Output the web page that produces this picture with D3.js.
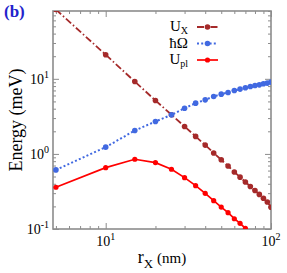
<!DOCTYPE html>
<html>
<head>
<meta charset="utf-8">
<script src="https://cdn.jsdelivr.net/npm/d3@7"></script>
<style>
  body { margin: 0; background: #fff; }
  text { font-family: "Liberation Serif", "Times New Roman", serif; }
</style>
</head>
<body>
<div id="chart"></div>
<script>
// exciton radius r_X (nm)
var radius = [5, 10, 15, 20, 25, 30, 35, 40, 45, 50, 55, 60, 65, 70, 75, 80, 85, 90, 95, 100];
// U_X (meV)
var uX = [83.6, 20.9, 9.2, 5.15, 3.32, 2.32, 1.71, 1.31, 1.03, 0.835, 0.69, 0.575, 0.49, 0.423, 0.368, 0.325, 0.289, 0.257, 0.229, 0.195];
// hbar Omega (meV)
var hOmega = [0.612, 1.23, 2.05, 2.70, 3.31, 4.06, 4.74, 5.25, 5.81, 6.25, 6.57, 6.98, 7.29, 7.59, 7.89, 8.14, 8.31, 8.58, 8.77, 9.04];
// U_pl (meV)
var uPl = [0.36, 0.656, 0.849, 0.766, 0.625, 0.483, 0.378, 0.299, 0.238, 0.196, 0.165, 0.137, 0.119, 0.102, 0.087];

var xTicks = [10, 100];
var yTicks = [0.1, 1, 10];
var xExp = ['1', '2'];
var yExp = ['-1', '0', '1'];

var series = [
  { name: 'U', sub: 'X', values: uX, color: '#a52a2a', dash: '7,2.5,1.5,2.5', width: 1.8, r: 2.8 },
  { name: '\u0127\u03a9', sub: '', values: hOmega, color: '#4169e1', dash: '2,2.2', width: 2, r: 2.8 },
  { name: 'U', sub: 'pl', values: uPl, color: '#ff0000', dash: null, width: 1.7, r: 2.6 }
];

var svg = d3.select('#chart').append('svg')
  .attr('width', 287)
  .attr('height', 273);

var margin = { top: 11, right: 16, bottom: 44, left: 53 };
var width = 287 - margin.left - margin.right;
var height = 273 - margin.top - margin.bottom;

var g = svg.append('g')
  .attr('transform', 'translate(' + margin.left + ',' + margin.top + ')');

var x = d3.scaleLog().domain([4.8, 100]).range([0, width]);
var y = d3.scaleLog().domain([0.1, 80]).range([height, 0]);

svg.append('defs').append('clipPath').attr('id', 'clip')
  .append('rect').attr('width', width).attr('height', height);

var axisColor = '#8c8c8c';

function isMajor(v) {
  var l = Math.log10(v);
  return Math.abs(l - Math.round(l)) < 1e-6;
}
var xMinor = x.ticks().filter(function(d) { return !isMajor(d); });
var yMinor = y.ticks().filter(function(d) { return !isMajor(d); });

function drawAxis(axis, tr) {
  var a = g.append('g').attr('transform', tr).call(axis);
  a.select('.domain').remove();
  a.selectAll('line').attr('stroke', axisColor).attr('stroke-width', 1);
  a.selectAll('text').remove();
}

drawAxis(d3.axisBottom(x).tickValues(xTicks).tickSize(-6), 'translate(0,' + height + ')');
drawAxis(d3.axisBottom(x).tickValues(xMinor).tickSize(-3), 'translate(0,' + height + ')');
drawAxis(d3.axisTop(x).tickValues(xTicks).tickSize(-6), 'translate(0,0)');
drawAxis(d3.axisTop(x).tickValues(xMinor).tickSize(-3), 'translate(0,0)');
drawAxis(d3.axisLeft(y).tickValues(yTicks).tickSize(-6), 'translate(0,0)');
drawAxis(d3.axisLeft(y).tickValues(yMinor).tickSize(-3), 'translate(0,0)');
drawAxis(d3.axisRight(y).tickValues(yTicks).tickSize(-6), 'translate(' + width + ',0)');
drawAxis(d3.axisRight(y).tickValues(yMinor).tickSize(-3), 'translate(' + width + ',0)');

g.append('rect')
  .attr('width', width)
  .attr('height', height)
  .attr('fill', 'none')
  .attr('stroke', axisColor)
  .attr('stroke-width', 1.6);

// tick labels with exponents
g.selectAll('.xlab')
  .data(xTicks)
  .enter().append('text')
    .attr('class', 'xlab')
    .attr('x', function(d) { return x(d); })
    .attr('y', height + 17)
    .attr('text-anchor', 'middle')
    .attr('font-size', 14)
    .each(function(d, i) {
      var t = d3.select(this);
      t.append('tspan').text('10');
      t.append('tspan').attr('dy', -6).attr('font-size', 10).text(xExp[i]);
    });

g.selectAll('.ylab')
  .data(yTicks)
  .enter().append('text')
    .attr('class', 'ylab')
    .attr('x', -4)
    .attr('y', function(d) { return y(d) + 5; })
    .attr('text-anchor', 'end')
    .attr('font-size', 14)
    .each(function(d, i) {
      var t = d3.select(this);
      t.append('tspan').text('10');
      t.append('tspan').attr('dy', -6).attr('font-size', 10).text(yExp[i]);
    });

// axis titles
var xt = svg.append('text')
  .attr('x', margin.left + width / 2)
  .attr('y', 263)
  .attr('text-anchor', 'middle')
  .attr('font-size', 18);
xt.append('tspan').text('r');
xt.append('tspan').attr('dy', 5).attr('font-size', 13).text('X');
xt.append('tspan').attr('dy', -5).attr('font-size', 15).text(' (nm)');

svg.append('text')
  .attr('transform', 'translate(22,' + (margin.top + height / 2) + ') rotate(-90)')
  .attr('text-anchor', 'middle')
  .attr('font-size', 18)
  .text('Energy (meV)');

svg.append('text')
  .attr('x', 4)
  .attr('y', 17)
  .attr('font-size', 17)
  .attr('font-weight', 'bold')
  .attr('fill', '#2323cc')
  .text('(b)');

// curves
var plot = g.append('g').attr('clip-path', 'url(#clip)');

series.forEach(function(s) {
  var pts = s.values.map(function(v, i) { return [radius[i], v]; });
  var line = d3.line()
    .x(function(d) { return x(d[0]); })
    .y(function(d) { return y(d[1]); });

  plot.append('path')
    .datum(pts)
    .attr('fill', 'none')
    .attr('stroke', s.color)
    .attr('stroke-width', s.width)
    .attr('stroke-dasharray', s.dash)
    .attr('d', line);

  plot.selectAll(null)
    .data(pts)
    .enter().append('circle')
      .attr('cx', function(d) { return x(d[0]); })
      .attr('cy', function(d) { return y(d[1]); })
      .attr('r', s.r)
      .attr('fill', s.color);
});

// legend
var legend = svg.append('g');
series.forEach(function(s, i) {
  var ly = 27 + i * 16.5;
  var t = legend.append('text')
    .attr('x', 188)
    .attr('y', ly + 4)
    .attr('text-anchor', 'end')
    .attr('font-size', 15);
  t.append('tspan').text(s.name);
  if (s.sub) t.append('tspan').attr('dy', 3).attr('font-size', 10).text(s.sub);

  legend.append('line')
    .attr('x1', 197).attr('x2', 218)
    .attr('y1', ly).attr('y2', ly)
    .attr('stroke', s.color)
    .attr('stroke-width', s.width)
    .attr('stroke-dasharray', s.dash);
  legend.append('circle')
    .attr('cx', 207.5).attr('cy', ly)
    .attr('r', s.r)
    .attr('fill', s.color);
});
</script>
</body>
</html>
